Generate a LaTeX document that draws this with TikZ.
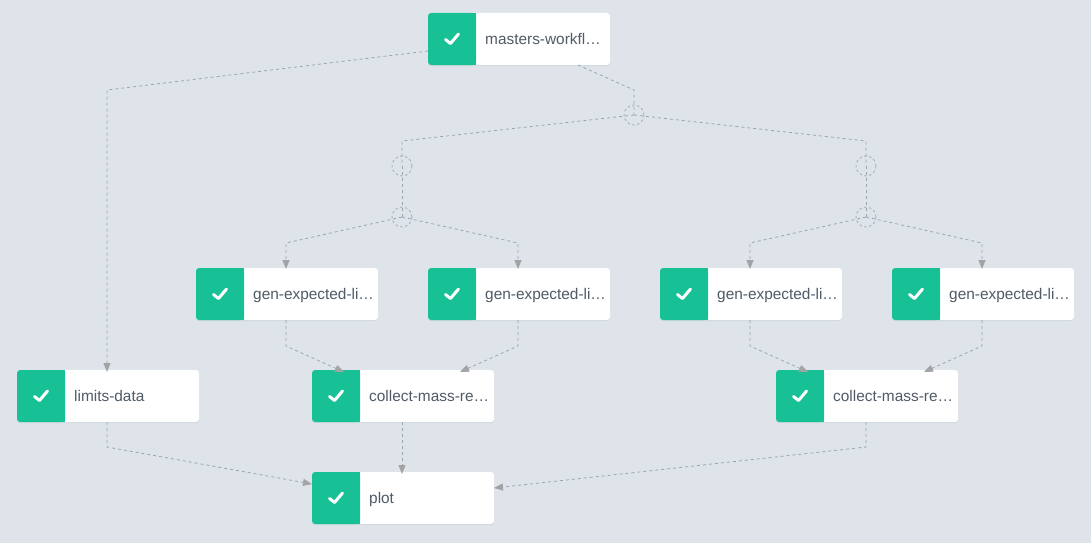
\documentclass[tikz,border=0pt]{standalone}
\usepackage{fontspec}
\setmainfont{Liberation Sans}
\usetikzlibrary{arrows.meta,calc}
\definecolor{bgc}{HTML}{DEE4EA}
\definecolor{okc}{HTML}{18C096}
\definecolor{txtc}{HTML}{4F5B66}
\definecolor{linec}{HTML}{98A6B0}
\definecolor{tipc}{HTML}{A3A3A3}
\definecolor{shc}{HTML}{CED5DC}
\tikzset{
  x=1pt,y=-1pt,
  card/.style={minimum width=182pt,minimum height=52pt,inner sep=0pt,outer sep=0pt,fill=white,rounded corners=3pt},
  cardshadow/.style={minimum width=182pt,minimum height=52pt,inner sep=0pt,fill=shc,rounded corners=3pt},
  label/.style={anchor=base west,inner sep=0pt,font=\fontsize{15.4pt}{18pt}\selectfont,text=txtc},
  conn/.style={draw=linec,line width=0.8pt,dash pattern=on 3pt off 3pt},
  flow/.style={conn,-{Triangle[length=9pt,width=7pt,fill=tipc,color=tipc,sep=0pt]}},
  dummy/.style={circle,draw=linec,line width=0.7pt,dash pattern=on 2.5pt off 2.5pt,minimum size=20pt,inner sep=0pt,outer sep=0pt},
  tick/.style={draw=white,line width=3pt,line cap=round,line join=round}
}
\newcommand{\wfcard}[4]{%
  \node[cardshadow] at ($(#2,#3)+(0,1.2)$) {};
  \node[card] (#1) at (#2,#3) {};
  \fill[okc,rounded corners=3pt] ($(#1.south west)+(24,0)$) -- ($(#1.south west)+(48,0)$) -- ($(#1.north west)+(48,0)$) -- (#1.north west) -- (#1.south west) -- cycle;
  \fill[okc] ($(#1.south west)+(20,0)$) rectangle ($(#1.north west)+(48,0)$);
  \draw[tick] ($(#1.west)+(17.5,0.5)$) -- ($(#1.west)+(22.5,4.5)$) -- ($(#1.west)+(30.5,-5)$);
  \node[label] (#1-text) at ($(#1.west)+(57,5.3)$) {#4};
}
\begin{document}
\begin{tikzpicture}
\useasboundingbox[fill=bgc] (0,0) rectangle (1091,543);
\node[dummy] (d0) at (634,115) {};
\node[dummy] (d1) at (402,166) {};
\node[dummy] (d2) at (866,166) {};
\node[dummy] (d3) at (402,217) {};
\node[dummy] (d4) at (866,217) {};
\wfcard{m}{519}{39}{masters-workfl…}
\wfcard{g1}{287}{294}{gen-expected-li…}
\wfcard{g2}{519}{294}{gen-expected-li…}
\wfcard{g3}{751}{294}{gen-expected-li…}
\wfcard{g4}{983}{294}{gen-expected-li…}
\wfcard{l}{108}{396}{limits-data}
\wfcard{c1}{403}{396}{collect-mass-re…}
\wfcard{c2}{867}{396}{collect-mass-re…}
\wfcard{p}{403}{498}{plot}
% bends
\coordinate (b1) at (107,90);
\coordinate (b2) at (634,90);
\coordinate (b3) at (402,141);
\coordinate (b4) at (866,141);
\coordinate (b5) at (286,243);
\coordinate (b6) at (518,243);
\coordinate (b7) at (750,243);
\coordinate (b8) at (982,243);
\coordinate (b9) at (286,346);
\coordinate (b10) at (518,346);
\coordinate (b11) at (750,346);
\coordinate (b12) at (982,346);
\coordinate (b13) at (107,447);
\coordinate (b14) at (866,447);
% connectors
\draw[flow] ($(m.west)+(0,12)$) -- (b1) -- ($(l.north)+(-1,2)$);
\draw[conn] ($(m.south)+(59,0)$) -- (b2) -- (d0.center);
\draw[conn] (d0.center) -- (b3) -- (d1.center);
\draw[conn] (d0.center) -- (b4) -- (d2.center);
\draw[conn] (d1.center) -- (d3.center);
\draw[conn] (d2.center) -- (d4.center);
\draw[flow] (d3.center) -- (b5) -- ($(g1.north)+(-1,1)$);
\draw[flow] (d3.center) -- (b6) -- ($(g2.north)+(-1,1)$);
\draw[flow] (d4.center) -- (b7) -- ($(g3.north)+(-1,1)$);
\draw[flow] (d4.center) -- (b8) -- ($(g4.north)+(-1,1)$);
\draw[flow] ($(g1.south)+(-1,0)$) -- (b9) -- ($(c1.north)+(-59,2)$);
\draw[flow] ($(g2.south)+(-1,0)$) -- (b10) -- ($(c1.north)+(57,2)$);
\draw[flow] ($(g3.south)+(-1,0)$) -- (b11) -- ($(c2.north)+(-59,2)$);
\draw[flow] ($(g4.south)+(-1,0)$) -- (b12) -- ($(c2.north)+(57,2)$);
\draw[flow] ($(l.south)+(-1,0)$) -- (b13) -- ($(p.west)+(0,-14)$);
\draw[flow] ($(c1.south)+(-1,0)$) -- ($(p.north)+(-1,2)$);
\draw[flow] ($(c2.south)+(-1,0)$) -- (b14) -- ($(p.east)+(0,-10)$);
\end{tikzpicture}
\end{document}
